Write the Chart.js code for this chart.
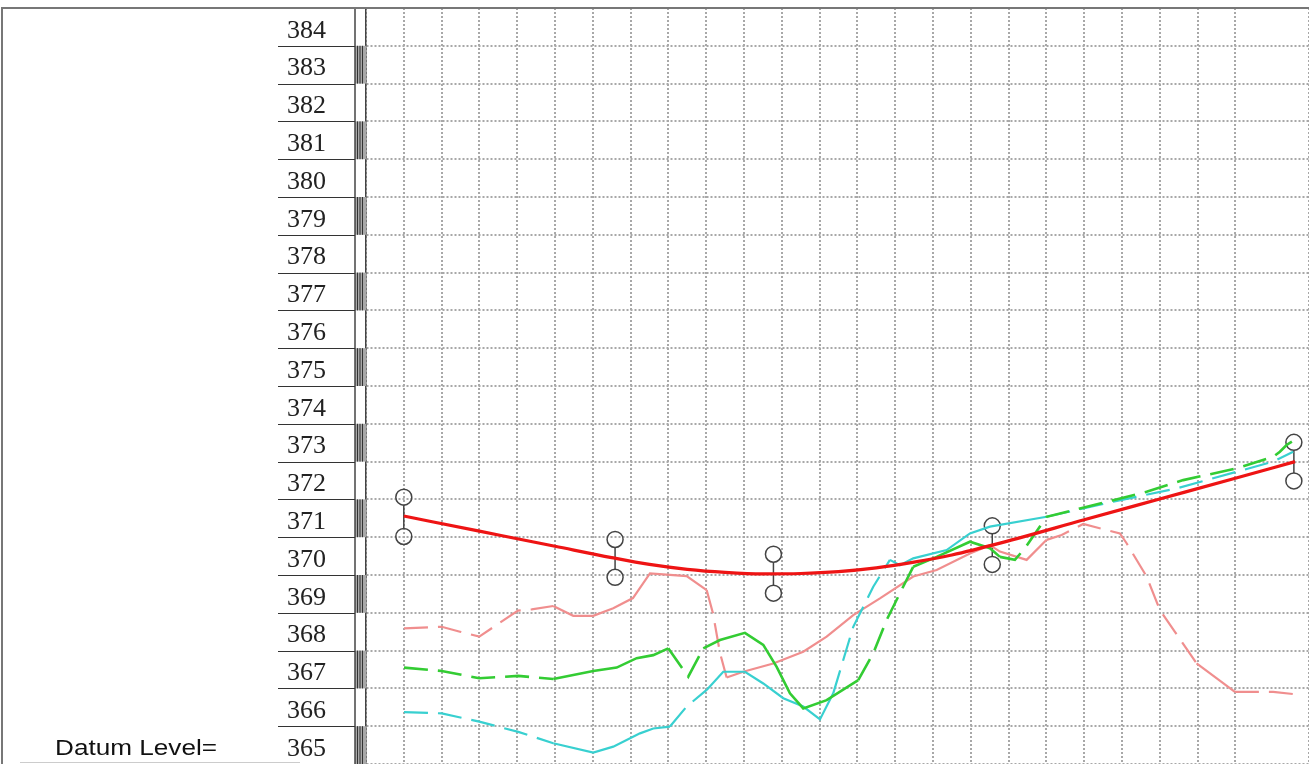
<!DOCTYPE html>
<html>
<head>
<meta charset="utf-8">
<title>Longitudinal section</title>
<script src="https://cdn.jsdelivr.net/npm/chart.js@4.4.1/dist/chart.umd.min.js"></script>
<style>
  html, body { margin: 0; padding: 0; background: #fff; }
  #wrap { width: 1309px; height: 764px; position: relative; }
</style>
</head>
<body>
<div id="wrap"><canvas id="profile"></canvas></div>
<script>
// level axis (m), one grid cell per metre
const levelMin = 365;
const levelMax = 385;
const datumText = 'Datum Level=';

// chainage, in grid cells from the left edge of the plot
const chainMax = 24.95;

// level marks (pair of circles at each station)
const stations   = [1.0, 6.59, 10.78, 16.57, 24.55];
const markTop    = [372.06, 370.94, 370.55, 371.30, 373.51];
const markBottom = [371.02, 369.94, 369.52, 370.28, 372.49];

// design grade line
const designX = [1.0, 3, 5, 6.5, 7.5, 8.5, 9.5, 10.5, 11.5, 12.5, 13.5, 14.5, 15.5, 16.8, 19, 21, 23, 24.58];
const designY = [371.56, 371.16, 370.76, 370.46, 370.28, 370.15, 370.07, 370.03, 370.04, 370.09, 370.19, 370.34, 370.53, 370.85, 371.46, 372.01, 372.56, 373.0];

// pink line
const pinkX = [1.005, 2.003, 2.487, 2.997, 4.021, 4.384, 4.955, 5.484, 6.013, 6.542, 7.063, 7.513, 8.484, 9.013, 9.18, 9.365, 9.542, 9.981, 10.775, 11.569, 12.188, 12.892, 13.598, 14.479, 15.098, 15.979, 16.508, 16.772, 17.479, 18.008, 18.405, 18.976, 19.947, 20.124, 20.653, 21.005, 21.976, 22.989, 24.003, 24.532];
const pinkY = [368.59, 368.63, 368.50, 368.37, 369.06, 369.09, 369.18, 368.92, 368.92, 369.12, 369.39, 370.04, 369.97, 369.60, 368.99, 367.94, 367.29, 367.44, 367.66, 367.97, 368.37, 368.94, 369.38, 369.96, 370.13, 370.57, 370.79, 370.62, 370.40, 370.93, 371.06, 371.35, 371.10, 370.84, 369.96, 369.07, 367.66, 366.91, 366.91, 366.85];

// green line
const greenX = [1.005, 2.003, 2.997, 4.029, 4.955, 6.013, 6.632, 7.161, 7.601, 7.997, 8.526, 8.923, 9.365, 10.026, 10.511, 10.865, 11.217, 11.569, 12.188, 13.024, 13.421, 13.775, 14.127, 14.479, 15.098, 15.979, 16.508, 16.772, 17.169, 17.434, 18.008, 18.889, 19.770, 20.653, 21.622, 23.034, 24.003, 24.180, 24.357, 24.497];
const greenY = [367.55, 367.46, 367.27, 367.33, 367.25, 367.46, 367.55, 367.80, 367.88, 368.06, 367.31, 368.06, 368.28, 368.47, 368.15, 367.57, 366.87, 366.47, 366.69, 367.22, 367.93, 368.81, 369.52, 370.22, 370.48, 370.88, 370.71, 370.48, 370.40, 370.71, 371.54, 371.76, 371.98, 372.20, 372.51, 372.82, 373.13, 373.26, 373.44, 373.53];

// cyan line
const cyanX = [1.005, 2.003, 2.997, 4.029, 4.955, 6.013, 6.542, 7.249, 7.601, 8.042, 8.484, 9.013, 9.452, 10.026, 10.511, 11.040, 11.569, 12.011, 12.362, 12.892, 13.421, 13.862, 14.127, 14.479, 15.362, 15.979, 16.508, 18.008, 19.770, 21.447, 23.034, 24.003, 24.532];
const cyanY = [366.37, 366.34, 366.12, 365.85, 365.55, 365.30, 365.46, 365.81, 365.94, 365.99, 366.52, 366.96, 367.44, 367.44, 367.13, 366.74, 366.52, 366.18, 366.87, 368.63, 369.69, 370.40, 370.26, 370.44, 370.66, 371.10, 371.28, 371.54, 371.94, 372.29, 372.73, 373.00, 373.26];

// stretches (in chainage) drawn dashed
const pinkDashed  = [[1.0, 4.87], [8.99, 9.55], [17.83, 21.96], [22.99, 24.6]];
const greenDashed = [[1.0, 4.95], [7.99, 8.93], [13.02, 14.48], [16.77, 24.6]];
const cyanDashed  = [[1.0, 4.95], [8.04, 9.01], [12.36, 13.86], [18.0, 24.6]];

function toPoints(xs, ys) {
	return xs.map(function(x, i) { return { x: x, y: ys[i] }; });
}

// pick a dash pattern for a segment from the dashed stretches
function dashBy(ranges) {
	return function(ctx) {
		const mid = (ctx.p0.parsed.x + ctx.p1.parsed.x) / 2;
		for (const r of ranges) {
			if (mid >= r[0] && mid <= r[1]) return [24, 10];
		}
		return undefined;
	};
}

const markPoints = [];
stations.forEach(function(s, i) {
	markPoints.push({ x: s, y: markTop[i] });
	markPoints.push({ x: s, y: markBottom[i] });
});

const markRadius = 8;

// left panel: tick rules, hatched band, frame, datum text, mark connectors
const sectionFrame = {
	id: 'sectionFrame',
	beforeDraw(chart) {
		const ctx = chart.ctx;
		ctx.save();
		ctx.fillStyle = '#fff';
		ctx.fillRect(0, 0, chart.width, chart.height);
		ctx.restore();
	},
	beforeDatasetsDraw(chart) {
		const { ctx, scales } = chart;
		ctx.save();
		ctx.strokeStyle = '#444';
		ctx.lineWidth = 1.5;
		stations.forEach(function(s, i) {
			const px = scales.x.getPixelForValue(s);
			const yt = scales.y.getPixelForValue(markTop[i]);
			const yb = scales.y.getPixelForValue(markBottom[i]);
			ctx.beginPath();
			ctx.moveTo(px, yt + markRadius);
			ctx.lineTo(px, yb - markRadius);
			ctx.stroke();
		});
		ctx.restore();
	},
	afterDraw(chart) {
		const { ctx, chartArea, scales } = chart;
		const y = scales.y;
		const left = chartArea.left;
		const bandL = left - 11;
		const top = chartArea.top;
		const bottom = chartArea.bottom;
		ctx.save();

		// hatched band, every second metre
		for (let v = levelMin; v < levelMax - 1; v += 2) {
			const y1 = y.getPixelForValue(v + 1);
			const y0 = y.getPixelForValue(v);
			ctx.fillStyle = '#a8a8a8';
			ctx.fillRect(bandL, y1, 11, y0 - y1);
			ctx.strokeStyle = '#333';
			ctx.lineWidth = 1;
			[2.5, 5, 7.5].forEach(function(dx) {
				ctx.beginPath();
				ctx.moveTo(bandL + dx, y1);
				ctx.lineTo(bandL + dx, y0);
				ctx.stroke();
			});
		}

		// band edges
		ctx.strokeStyle = '#444';
		ctx.lineWidth = 1.5;
		ctx.beginPath();
		ctx.moveTo(bandL, top);
		ctx.lineTo(bandL, bottom);
		ctx.stroke();

		// rules under the level labels
		ctx.strokeStyle = '#333';
		ctx.lineWidth = 1.2;
		for (let v = levelMin + 1; v < levelMax; v++) {
			const py = Math.round(y.getPixelForValue(v)) + 0.5;
			ctx.beginPath();
			ctx.moveTo(left - 88, py);
			ctx.lineTo(bandL, py);
			ctx.stroke();
		}

		// outer frame
		ctx.strokeStyle = '#777';
		ctx.lineWidth = 2;
		ctx.beginPath();
		ctx.moveTo(2, bottom);
		ctx.lineTo(2, top);
		ctx.lineTo(chart.width, top);
		ctx.stroke();
		ctx.strokeStyle = '#ccc';
		ctx.lineWidth = 1;
		ctx.beginPath();
		ctx.moveTo(20, bottom - 1.5);
		ctx.lineTo(left - 66, bottom - 1.5);
		ctx.stroke();

		// datum text, drawn a little wide like the plotted sheet
		ctx.font = '22px "Liberation Sans", Arial, sans-serif';
		ctx.fillStyle = '#111';
		ctx.textBaseline = 'alphabetic';
		const w = ctx.measureText(datumText).width;
		ctx.translate(55, bottom - 9);
		ctx.scale(162 / w, 1);
		ctx.fillText(datumText, 0, 0);
		ctx.restore();
	}
};

const gridStyle = { color: '#a8a8a8', lineWidth: 2, drawTicks: false };

new Chart(document.getElementById('profile'), {
	type: 'line',
	data: {
		datasets: [
			{
				label: 'Design level',
				data: toPoints(designX, designY),
				borderColor: '#ee1414',
				borderWidth: 3.2,
				pointRadius: 0,
				cubicInterpolationMode: 'monotone'
			},
			{
				label: 'Green',
				data: toPoints(greenX, greenY),
				borderColor: '#33cc33',
				borderWidth: 2.6,
				pointRadius: 0,
				segment: { borderDash: dashBy(greenDashed) }
			},
			{
				label: 'Cyan',
				data: toPoints(cyanX, cyanY),
				borderColor: '#38d0d0',
				borderWidth: 2.2,
				pointRadius: 0,
				segment: { borderDash: dashBy(cyanDashed) }
			},
			{
				label: 'Pink',
				data: toPoints(pinkX, pinkY),
				borderColor: '#f08e8e',
				borderWidth: 2.2,
				pointRadius: 0,
				segment: { borderDash: dashBy(pinkDashed) }
			},
			{
				label: 'Level marks',
				data: markPoints,
				showLine: false,
				pointRadius: markRadius,
				pointBorderWidth: 1.5,
				pointBorderColor: '#444',
				pointBackgroundColor: 'rgba(0,0,0,0)'
			}
		]
	},
	options: {
		responsive: true,
		maintainAspectRatio: false,
		animation: false,
		layout: { autoPadding: false, padding: { top: 8, right: 0, bottom: 0, left: 0 } },
		plugins: {
			legend: { display: false },
			tooltip: { enabled: false }
		},
		scales: {
			x: {
				type: 'linear',
				min: 0,
				max: chainMax,
				afterFit: function(scale) {
					scale.height = 0;
					scale.paddingLeft = 0;
					scale.paddingRight = 0;
				},
				ticks: { display: false, stepSize: 1 },
				grid: gridStyle,
				border: { display: false, dash: [2, 2] }
			},
			y: {
				type: 'linear',
				min: levelMin,
				max: levelMax,
				afterFit: function(scale) {
					scale.width = 366;
					scale.paddingTop = 0;
					scale.paddingBottom = 0;
				},
				ticks: {
					stepSize: 1,
					padding: 40,
					crossAlign: 'center',
					labelOffset: -15,
					color: '#222',
					font: { family: '"Liberation Serif", "DejaVu Serif", serif', size: 26 },
					callback: function(v) { return v < levelMax ? String(v) : ''; }
				},
				grid: gridStyle,
				border: { display: true, color: '#444', width: 1.5, dash: [2, 2] }
			}
		}
	},
	plugins: [sectionFrame]
});
</script>
</body>
</html>
